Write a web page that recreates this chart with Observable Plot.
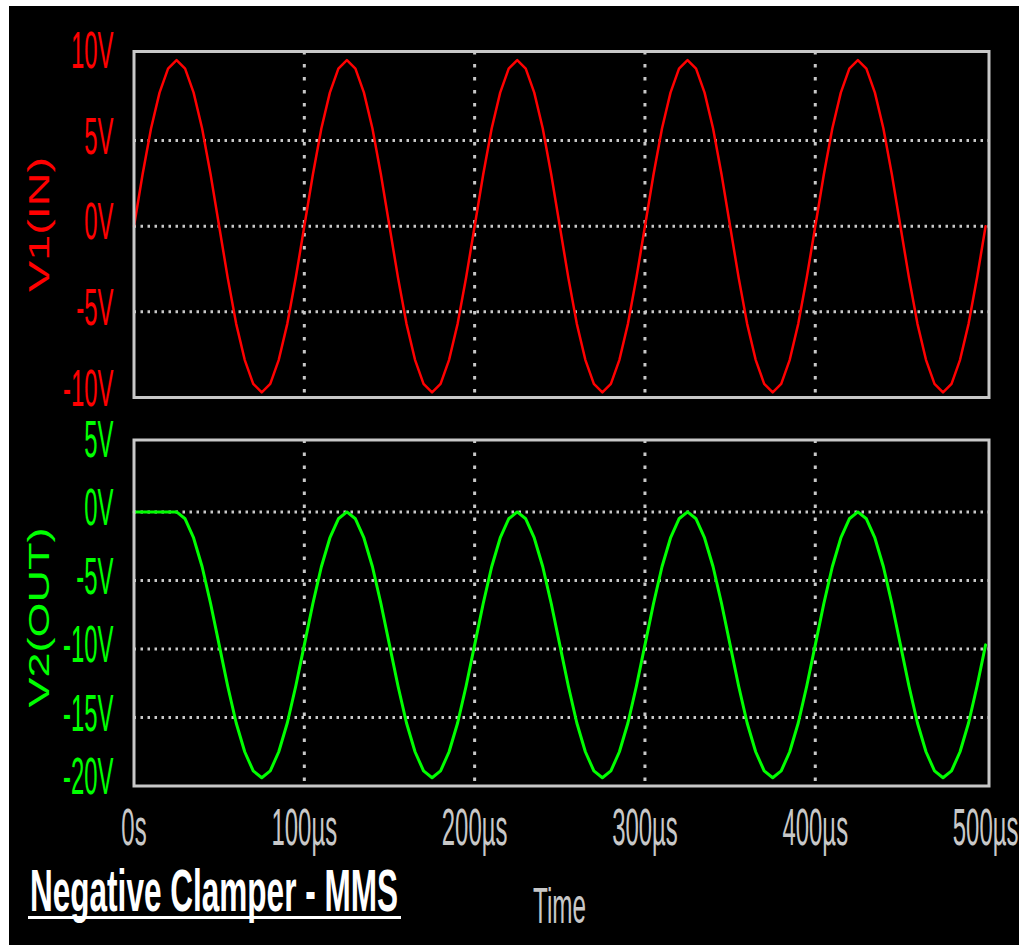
<!DOCTYPE html>
<html>
<head>
<meta charset="utf-8">
<script src="https://cdn.jsdelivr.net/npm/d3@7"></script>
<script src="https://cdn.jsdelivr.net/npm/@observablehq/plot@0.6"></script>
<style>
  html, body { margin: 0; padding: 0; background: #fff; width: 1019px; height: 945px; overflow: hidden; }
  #bg { position: absolute; left: 9px; top: 6px; width: 1010px; height: 939px; background: #000; }
  .plot { position: absolute; left: 0; }
  #title { position: absolute; left: 30px; top: 861px; font: bold 60px/60px "Liberation Sans", Arial, sans-serif; color: #fff; white-space: nowrap; transform-origin: left top; }
  #underline { position: absolute; left: 28px; top: 916px; width: 373px; height: 3px; background: #fff; }
  #xlabel { position: absolute; left: 533px; top: 881px; font: 50px/50px "Liberation Sans", Arial, sans-serif; color: #c8c8c8; white-space: nowrap; transform-origin: left top; }
</style>
</head>
<body>
<div id="bg"></div>
<div id="top" class="plot" style="top:0px"></div>
<div id="bottom" class="plot" style="top:420px"></div>
<div id="title">Negative Clamper - MMS</div>
<div id="underline"></div>
<div id="xlabel">Time</div>
<script>
// ---- data ----
const timeUs = [
  0, 5, 10, 15, 20, 25, 30, 35, 40, 45, 50, 55, 60, 65, 70, 75, 80, 85, 90, 95,
  100, 105, 110, 115, 120, 125, 130, 135, 140, 145, 150, 155, 160, 165, 170, 175, 180, 185, 190, 195,
  200, 205, 210, 215, 220, 225, 230, 235, 240, 245, 250, 255, 260, 265, 270, 275, 280, 285, 290, 295,
  300, 305, 310, 315, 320, 325, 330, 335, 340, 345, 350, 355, 360, 365, 370, 375, 380, 385, 390, 395,
  400, 405, 410, 415, 420, 425, 430, 435, 440, 445, 450, 455, 460, 465, 470, 475, 480, 485, 490, 495,
  500
];
const v1In = [
  0, 3.0, 5.7, 7.8, 9.2, 9.7, 9.2, 7.8, 5.7, 3.0, 0, -3.0, -5.7, -7.8, -9.2, -9.7, -9.2, -7.8, -5.7, -3.0,
  0, 3.0, 5.7, 7.8, 9.2, 9.7, 9.2, 7.8, 5.7, 3.0, 0, -3.0, -5.7, -7.8, -9.2, -9.7, -9.2, -7.8, -5.7, -3.0,
  0, 3.0, 5.7, 7.8, 9.2, 9.7, 9.2, 7.8, 5.7, 3.0, 0, -3.0, -5.7, -7.8, -9.2, -9.7, -9.2, -7.8, -5.7, -3.0,
  0, 3.0, 5.7, 7.8, 9.2, 9.7, 9.2, 7.8, 5.7, 3.0, 0, -3.0, -5.7, -7.8, -9.2, -9.7, -9.2, -7.8, -5.7, -3.0,
  0, 3.0, 5.7, 7.8, 9.2, 9.7, 9.2, 7.8, 5.7, 3.0, 0, -3.0, -5.7, -7.8, -9.2, -9.7, -9.2, -7.8, -5.7, -3.0,
  0
];
const v2Out = [
  0, 0, 0, 0, 0, 0, -0.5, -1.9, -4.0, -6.7, -9.7, -12.7, -15.4, -17.5, -18.9, -19.4, -18.9, -17.5, -15.4, -12.7,
  -9.7, -6.7, -4.0, -1.9, -0.5, 0, -0.5, -1.9, -4.0, -6.7, -9.7, -12.7, -15.4, -17.5, -18.9, -19.4, -18.9, -17.5, -15.4, -12.7,
  -9.7, -6.7, -4.0, -1.9, -0.5, 0, -0.5, -1.9, -4.0, -6.7, -9.7, -12.7, -15.4, -17.5, -18.9, -19.4, -18.9, -17.5, -15.4, -12.7,
  -9.7, -6.7, -4.0, -1.9, -0.5, 0, -0.5, -1.9, -4.0, -6.7, -9.7, -12.7, -15.4, -17.5, -18.9, -19.4, -18.9, -17.5, -15.4, -12.7,
  -9.7, -6.7, -4.0, -1.9, -0.5, 0, -0.5, -1.9, -4.0, -6.7, -9.7, -12.7, -15.4, -17.5, -18.9, -19.4, -18.9, -17.5, -15.4, -12.7,
  -9.7
];
const timeTicks = [0, 100, 200, 300, 400, 500];
const timeGrid = [100, 200, 300, 400];
const topTicks = [-5, 0, 5, 10];
const topLowTick = [-10];
const topGrid = [5, 0, -5];
const bottomTicks = [-15, -10, -5, 0, 5];
const bottomLowTick = [-20];
const bottomGrid = [0, -5, -10, -15];
const topTitle = "V1(IN)";
const bottomTitle = "V2(OUT)";

const RED = "#ff0000", GREEN = "#00ff00", GRID = "#c8c8c8", LABEL = "#c8c8c8";
const FONT = "'Liberation Sans', Arial, sans-serif";
const W = 1019;

const topData = timeUs.map((t, i) => ({t, v: v1In[i]}));
const bottomData = timeUs.map((t, i) => ({t, v: v2Out[i]}));

const yTickOpts = (fill, dy) => ({tickSize: 0, tickPadding: 20.5, tickFormat: (v) => v + "V", fill, fontSize: 52, dy, label: null});

const topPlot = Plot.plot({
  width: W, height: 420,
  marginLeft: 133.5, marginRight: 30.5, marginTop: 51, marginBottom: 23,
  style: {background: "transparent", fontFamily: FONT, overflow: "visible"},
  x: {domain: [0, 502], axis: null},
  y: {domain: [-10, 10.2], axis: null},
  marks: [
    Plot.ruleY(topGrid, {stroke: GRID, strokeWidth: 3, strokeDasharray: "2.5,4.5"}),
    Plot.ruleX(timeGrid, {stroke: GRID, strokeWidth: 3, strokeDasharray: "3.5,9.5"}),
    Plot.line(topData, {x: "t", y: "v", stroke: RED, strokeWidth: 2.5}),
    Plot.frame({stroke: GRID, strokeWidth: 3}),
    Plot.axisY(topTicks, yTickOpts(RED, -3.5)),
    Plot.axisY(topLowTick, yTickOpts(RED, -8.5)),
    Plot.text([topTitle], {frameAnchor: "left", textAnchor: "middle", rotate: -90, dx: -94.5, fill: RED, fontSize: 29})
  ]
});

const bottomPlot = Plot.plot({
  width: W, height: 525,
  marginLeft: 133.5, marginRight: 30.5, marginTop: 19.5, marginBottom: 159.5,
  style: {background: "transparent", fontFamily: FONT, overflow: "visible"},
  x: {domain: [0, 502]},
  y: {domain: [-20, 5.25], axis: null},
  marks: [
    Plot.ruleY(bottomGrid, {stroke: GRID, strokeWidth: 3, strokeDasharray: "2.5,4.5"}),
    Plot.ruleX(timeGrid, {stroke: GRID, strokeWidth: 3, strokeDasharray: "3.5,9.5"}),
    Plot.line(bottomData, {x: "t", y: "v", stroke: GREEN, strokeWidth: 3}),
    Plot.frame({stroke: GRID, strokeWidth: 3}),
    Plot.axisY(bottomTicks, yTickOpts(GREEN, -3.5)),
    Plot.axisY(bottomLowTick, yTickOpts(GREEN, -8.5)),
    Plot.axisX(timeTicks, {tickSize: 0, tickPadding: 22, tickFormat: (t) => t === 0 ? "0s" : t + "µs", fill: LABEL, fontSize: 52, label: null}),
    Plot.text([bottomTitle], {frameAnchor: "left", textAnchor: "middle", rotate: -90, dx: -94.5, dy: 4.5, fill: GREEN, fontSize: 29})
  ]
});

document.getElementById("top").appendChild(topPlot);
document.getElementById("bottom").appendChild(bottomPlot);

function squeeze(svg, selector, sx) {
  d3.select(svg).selectAll(selector).each(function () {
    const tr = this.getAttribute("transform") || "";
    this.setAttribute("transform", tr + ` scale(${sx},1)`);
  });
}
function fitText(svg, targetLen) {
  d3.select(svg).selectAll('g[aria-label="text"] text').each(function () {
    const len = this.getComputedTextLength();
    const tr = this.getAttribute("transform") || "";
    this.setAttribute("transform", tr + ` scale(${targetLen / len},1)`);
  });
}
for (const svg of [topPlot, bottomPlot]) {
  squeeze(svg, 'g[aria-label="y-axis tick label"] text', 0.46);
  squeeze(svg, 'g[aria-label="x-axis tick label"] text', 0.46);
}
fitText(topPlot, 135);
fitText(bottomPlot, 180);

function fitHtml(id, target) {
  const el = document.getElementById(id);
  const w = el.getBoundingClientRect().width;
  el.style.transform = `scaleX(${target / w})`;
}
fitHtml("title", 368);
fitHtml("xlabel", 53);
</script>
</body>
</html>
